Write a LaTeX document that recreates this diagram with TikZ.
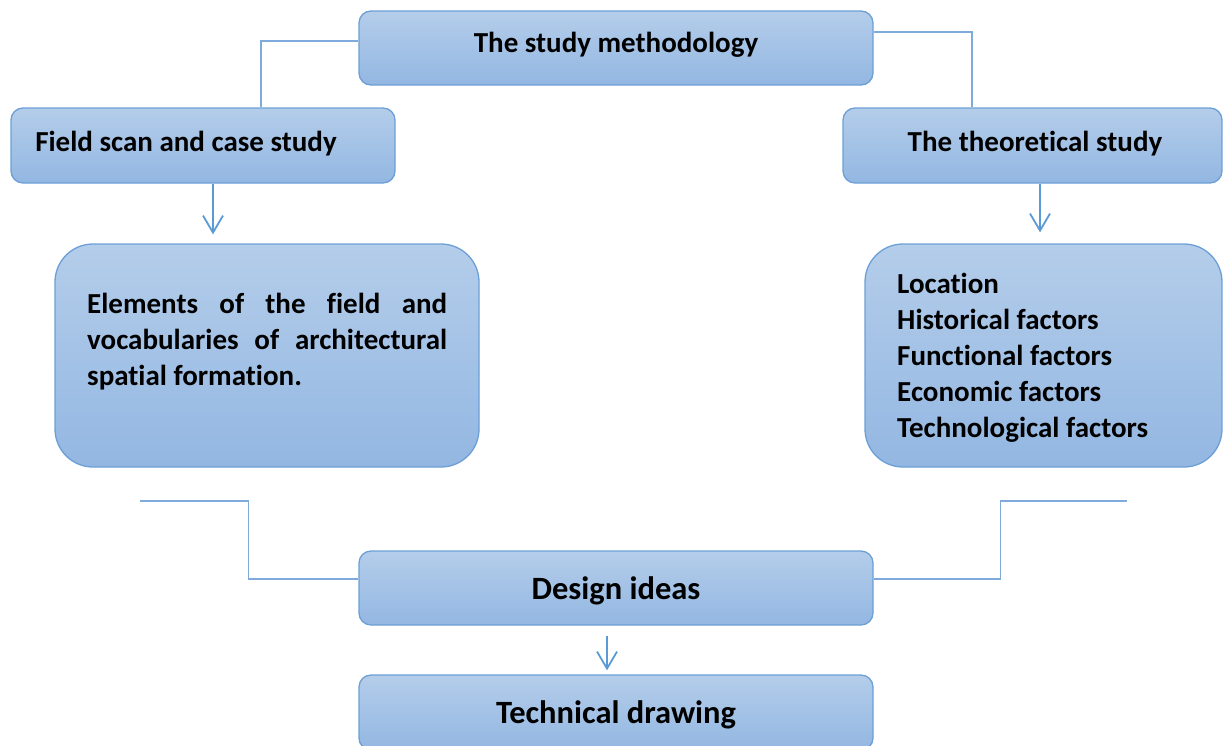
\documentclass[tikz,border=0pt]{standalone}
\usepackage{fontspec}
\setmainfont{Carlito}[Ligatures=NoCommon]
\usetikzlibrary{arrows.meta}
\definecolor{boxtop}{HTML}{B4CDEA}
\definecolor{boxbot}{HTML}{93B7E2}
\definecolor{boxline}{HTML}{6C9FD6}
\definecolor{conn}{HTML}{7EAADC}
\definecolor{arr}{HTML}{5B9BD5}
\begin{document}
\begin{tikzpicture}[x=1pt,y=-1pt,
  box/.style={draw=boxline, line width=1.3pt, rounded corners=12pt,
    top color=boxtop, bottom color=boxbot, inner sep=0pt,
    font=\fontsize{29}{36}\selectfont\bfseries},
  bigbox/.style={box, rounded corners=38pt},
  bigfont/.style={font=\fontsize{32.5}{39}\selectfont\bfseries},
  txt/.style={inner sep=0pt, font=\fontsize{29}{36}\selectfont\bfseries},
  conline/.style={draw=conn, line width=1.4pt},
  arrowline/.style={draw=arr, line width=1.8pt, -{Straight Barb[length=17pt,width=20pt,line width=1.8pt]}}
]
\useasboundingbox (0,0) rectangle (1223,745);

\node[box, minimum width=514pt, minimum height=74pt, text height=20pt, text depth=11.4pt] (meth) at (616,48) {The study methodology};
\node[box, minimum width=384pt, minimum height=75pt, text height=20pt, text depth=8.4pt] (field) at (203,145.5) {Field scan and case study\hspace*{34pt}};
\node[box, minimum width=379pt, minimum height=75pt, text height=20pt, text depth=8.4pt] (theo) at (1032.5,145.5) {\hspace*{5pt}The theoretical study};

\node[bigbox, minimum width=424pt, minimum height=223pt] (elem) at (267,355.5) {};
\node[txt, anchor=north west, text width=360pt, align=justify] (elemtxt) at (87,292.5)
  {Elements of the field and\linebreak vocabularies of architectural\linebreak spatial formation.};

\node[bigbox, minimum width=357pt, minimum height=223pt] (fact) at (1043.5,355.5) {};
\node[txt, anchor=west] (facttxt) at (897,358)
  {\begin{tabular}{@{}l@{}}Location\\Historical factors\\Functional factors\\Economic factors\\Technological factors\end{tabular}};

\node[box, bigfont, minimum width=514pt, minimum height=74pt, text height=24pt, text depth=1pt] (design) at (616,588) {Design ideas};
\node[box, bigfont, minimum width=514pt, minimum height=75pt, text height=24pt, text depth=2pt] (tech) at (616,712.5) {Technical drawing};

% top connectors
\draw[conline] ([yshift=7pt]meth.west) -| ([xshift=58pt]field.north);
\draw[conline] ([yshift=16pt]meth.east) -| ([xshift=-60.5pt]theo.north);

% arrows
\draw[arrowline, shorten >=9pt] ([xshift=10pt]field.south) -- ([xshift=10pt]field.south |- elem.north);
\draw[arrowline, shorten >=11pt] ([xshift=7.5pt]theo.south) -- ([xshift=7.5pt]theo.south |- fact.north);
\draw[arrowline, shorten <=10pt, shorten >=4pt] ([xshift=-9pt]design.south) -- ([xshift=-9pt]design.south |- tech.north);

% bottom connectors
\coordinate (lend) at (140,501);
\coordinate (rend) at (1127,501);
\draw[conline] (lend) -| ([xshift=-110pt,yshift=9pt]design.west) -- ([yshift=9pt]design.west);
\draw[conline] (rend) -| ([xshift=127pt,yshift=9pt]design.east) -- ([yshift=9pt]design.east);
\end{tikzpicture}
\end{document}
